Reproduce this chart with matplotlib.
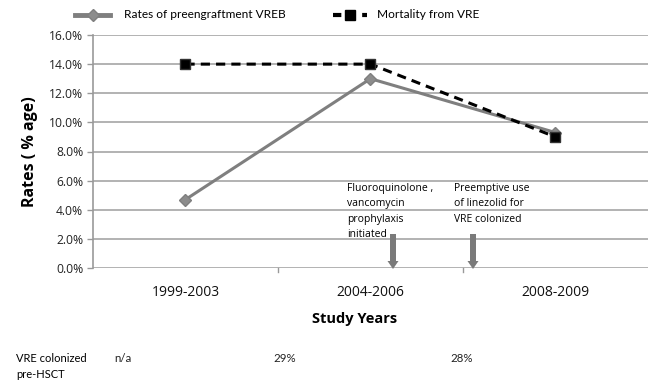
import matplotlib
matplotlib.use("Agg")
import matplotlib.pyplot as plt
import numpy as np

categories = ["1999-2003", "2004-2006", "2008-2009"]
vreb_rates = [4.7, 13.0, 9.3]
mortality = [14.0, 14.0, 9.0]
yticks = [0, 2, 4, 6, 8, 10, 12, 14, 16]
colonized = ["n/a", "29%", "28%"]
series_names = ["Rates of preengraftment VREB", "Mortality from VRE"]

FONT = "Open Sans"
plt.rcParams["font.family"] = [FONT, "DejaVu Sans"]
NARROW = ["Lato", "DejaVu Sans"]

W, H = 651, 388
fig = plt.figure(figsize=(W / 100, H / 100), dpi=100)
ax = fig.add_axes([93 / W, 1 - 268 / H, (648 - 93) / W, (268 - 35) / H])

x = np.arange(len(categories))
ax.set_xlim(-0.5, len(categories) - 0.5)
ax.set_ylim(0, 16)
ax.set_yticks(yticks)
ax.set_yticklabels([f"{v:.1f}%" for v in yticks], fontsize=8.7, color="#222222")
ax.set_xticks(x)
ax.set_xticklabels(categories, fontsize=10, color="#111111")
ax.tick_params(axis="x", length=0, pad=12)
ax.tick_params(axis="y", length=4, color="#999999", width=1, pad=3)
ax.grid(axis="y", color="#a6a6a6", linewidth=1.2)
ax.set_axisbelow(True)
for s in ["top", "right", "bottom"]:
    ax.spines[s].set_visible(False)
ax.spines["left"].set_color("#999999")
ax.spines["left"].set_linewidth(1.2)

for xb in [0.5, 1.5]:
    ax.plot([xb, xb], [0, -0.25], color="#999999", lw=1, clip_on=False)

l1, = ax.plot(x, vreb_rates, color="#7f7f7f", lw=2.2, marker="D", ms=6,
              mfc="#8c8c8c", mec="#7f7f7f", zorder=3)
l2, = ax.plot(x, mortality, color="black", lw=2.2, ls=(0, (3, 2)), marker="s", ms=7,
              mfc="black", mec="#333333", zorder=4)

ax.set_xlabel("Study Years", fontsize=10.5, fontweight="bold")
ax.xaxis.set_label_coords((355 - 93) / (648 - 93), -(319 - 268) / (268 - 35))
ax.xaxis.label.set_va("center")
ax.set_ylabel("Rates ( % age)", fontsize=11.5, fontweight="bold", labelpad=8)

ann1 = "Fluoroquinolone ,\nvancomycin\nprophylaxis\ninitiated"
ann2 = "Preemptive use\nof linezolid for\nVRE colonized"
fig.text(347 / W, 1 - 183 / H, ann1, fontsize=7.5, va="top", ha="left", linespacing=1.55)
fig.text(454 / W, 1 - 183 / H, ann2, fontsize=7.5, va="top", ha="left", linespacing=1.55)
for ax_x in [393, 473]:
    fig.patches.append(matplotlib.patches.FancyArrow(
        ax_x / W, 1 - 234 / H, 0, -(35 / H), width=6 / W, head_width=11 / W,
        head_length=8 / H, length_includes_head=True, transform=fig.transFigure,
        color="#7a7a7a", lw=0, zorder=5))

ly = 1 - 15 / H
fig.add_artist(matplotlib.lines.Line2D([75 / W, 92.5 / W, 110 / W], [ly, ly, ly], color="#7f7f7f", lw=3.5,
                                       marker="D", markevery=[1], ms=6, mfc="#8c8c8c", mec="#7f7f7f"))
fig.add_artist(matplotlib.lines.Line2D([333 / W, 350 / W, 367 / W], [ly, ly, ly], color="black", lw=3,
                                       ls=(0, (2, 1.5)), marker="s", markevery=[1], ms=7, mfc="black"))
fig.text(124 / W, ly, series_names[0], fontsize=8.6, va="center", ha="left", family=NARROW)
fig.text(377 / W, ly, series_names[1], fontsize=8.6, va="center", ha="left", family=NARROW)

fig.text(16 / W, 1 - 353 / H, "VRE colonized\npre-HSCT", fontsize=8, va="top", ha="left",
         linespacing=1.6, family=NARROW)
for xp, txt in zip([114, 273, 450], colonized):
    fig.text(xp / W, 1 - 353 / H, txt, fontsize=8.3, va="top", ha="left", color="#222222", family=NARROW)

fig.savefig("out.png", dpi=100, facecolor="white")
